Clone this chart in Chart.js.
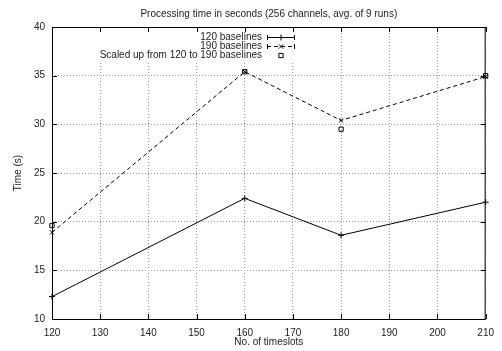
<!DOCTYPE html>
<html>
<head>
<meta charset="utf-8">
<script src="https://cdn.jsdelivr.net/npm/chart.js@4/dist/chart.umd.min.js"></script>
<style>
  html, body { margin: 0; padding: 0; background: #fff; }
  #wrap { width: 502px; height: 351px; }
</style>
</head>
<body>
<div id="wrap"><canvas id="c" width="502" height="351"></canvas></div>
<script>
const timeslots = [120, 160, 180, 210];
const base120 = [12.3, 22.4, 18.6, 22.0];
const base190 = [18.9, 35.4, 30.4, 34.9];
const scaled = [19.6, 35.4, 29.5, 35.0];
const xTicks = [120, 130, 140, 150, 160, 170, 180, 190, 200, 210];
const yTicks = [10, 15, 20, 25, 30, 35, 40];

const titleText = 'Processing time in seconds (256 channels, avg. of 9 runs)';
const xTitle = 'No. of timeslots';
const yTitle = 'Time (s)';
const FONT = '"Liberation Sans", Arial, sans-serif';

function pts(vals) {
  return timeslots.map((x, i) => ({ x: x, y: vals[i] }));
}

// gnuplot-ish frame, inward ticks, titles and key
const gnuplotLook = {
  id: 'gnuplotLook',
  beforeDatasetsDraw(chart) {
    const ctx = chart.ctx, a = chart.chartArea;
    // key area hides the grid
    ctx.save();
    ctx.fillStyle = '#fff';
    ctx.fillRect(a.left + 1, a.top + 1, 250, 34);
    ctx.restore();
  },
  afterDraw(chart) {
    const ctx = chart.ctx, a = chart.chartArea;
    const xs = chart.scales.x, ys = chart.scales.y;
    ctx.save();
    ctx.strokeStyle = '#000';
    ctx.lineWidth = 1;
    ctx.strokeRect(a.left + 0.5, a.top + 0.5, a.right - a.left - 1, a.bottom - a.top);
    ctx.beginPath();
    xTicks.forEach(v => {
      const px = Math.round(xs.getPixelForValue(v)) + 0.5;
      ctx.moveTo(px, a.bottom); ctx.lineTo(px, a.bottom - 5);
      ctx.moveTo(px, a.top); ctx.lineTo(px, a.top + 5);
    });
    yTicks.forEach(v => {
      const py = Math.round(ys.getPixelForValue(v)) + 0.5;
      ctx.moveTo(a.left, py); ctx.lineTo(a.left + 5, py);
      ctx.moveTo(a.right, py); ctx.lineTo(a.right - 5, py);
    });
    ctx.stroke();

    ctx.fillStyle = '#222';
    ctx.font = '10px ' + FONT;
    ctx.textAlign = 'center';
    ctx.textBaseline = 'middle';
    const cx = (a.left + a.right) / 2;
    ctx.fillText(titleText, cx, 14);
    ctx.fillText(xTitle, cx, 342);
    ctx.save();
    ctx.translate(18, (a.top + a.bottom) / 2);
    ctx.rotate(-Math.PI / 2);
    ctx.fillText(yTitle, 0, 0);
    ctx.restore();

    // key
    const textRight = 262, x0 = 267, x1 = 295, xm = 281;
    ctx.textAlign = 'right';
    chart.data.datasets.forEach((ds, i) => {
      const y = 37 + i * 9;
      ctx.fillStyle = '#222';
      ctx.fillText(ds.label, textRight, y);
      ctx.strokeStyle = '#000';
      ctx.setLineDash(ds.showLine ? (ds.borderDash || []) : []);
      if (ds.showLine) {
        ctx.beginPath();
        ctx.moveTo(x0, y + 0.5); ctx.lineTo(x1, y + 0.5);
        ctx.stroke();
        ctx.setLineDash([]);
        ctx.beginPath();
        ctx.moveTo(x0 + 0.5, y - 2); ctx.lineTo(x0 + 0.5, y + 3);
        ctx.moveTo(x1 - 0.5, y - 2); ctx.lineTo(x1 - 0.5, y + 3);
        ctx.stroke();
      }
      ctx.fillStyle = 'rgba(0,0,0,0)';
      Chart.helpers.drawPoint(ctx, {
        pointStyle: ds.pointStyle, radius: ds.pointRadius, borderWidth: 1
      }, xm, y + 0.5);
    });
    ctx.restore();
  }
};

new Chart(document.getElementById('c'), {
  type: 'scatter',
  data: {
    datasets: [
      {
        label: '120 baselines',
        data: pts(base120),
        showLine: true,
        clip: false,
        borderColor: '#000',
        backgroundColor: '#000',
        borderWidth: 1,
        pointStyle: 'cross',
        pointRadius: 3,
        pointBorderWidth: 1
      },
      {
        label: '190 baselines',
        data: pts(base190),
        showLine: true,
        clip: false,
        borderColor: '#000',
        backgroundColor: '#000',
        borderWidth: 1,
        borderDash: [4, 3],
        pointStyle: 'crossRot',
        pointRadius: 3,
        pointBorderWidth: 1
      },
      {
        label: 'Scaled up from 120 to 190 baselines',
        data: pts(scaled),
        showLine: false,
        clip: false,
        borderColor: '#000',
        backgroundColor: 'rgba(0,0,0,0)',
        pointStyle: 'rect',
        pointRadius: 3,
        pointBorderWidth: 1
      }
    ]
  },
  options: {
    responsive: false,
    animation: false,
    layout: { padding: { top: 27, right: 10, left: 0, bottom: 0 } },
    plugins: {
      legend: { display: false },
      title: { display: false },
      tooltip: { enabled: false }
    },
    scales: {
      x: {
        type: 'linear',
        min: 120,
        max: 210,
        afterFit: s => { s.height = 32; },
        afterBuildTicks: s => { s.ticks = xTicks.map(v => ({ value: v })); },
        grid: {
          color: '#999',
          drawTicks: false
        },
        border: { display: false, dash: [1, 2] },
        ticks: {
          padding: 8,
          color: '#222',
          font: { family: FONT, size: 10 },
          maxRotation: 0
        }
      },
      y: {
        min: 10,
        max: 40,
        afterFit: s => { s.width = 52; },
        afterBuildTicks: s => { s.ticks = yTicks.map(v => ({ value: v })); },
        grid: {
          color: '#999',
          drawTicks: false
        },
        border: { display: false, dash: [1, 2] },
        ticks: {
          padding: 7,
          color: '#222',
          font: { family: FONT, size: 10 }
        }
      }
    }
  },
  plugins: [gnuplotLook]
});
</script>
</body>
</html>
